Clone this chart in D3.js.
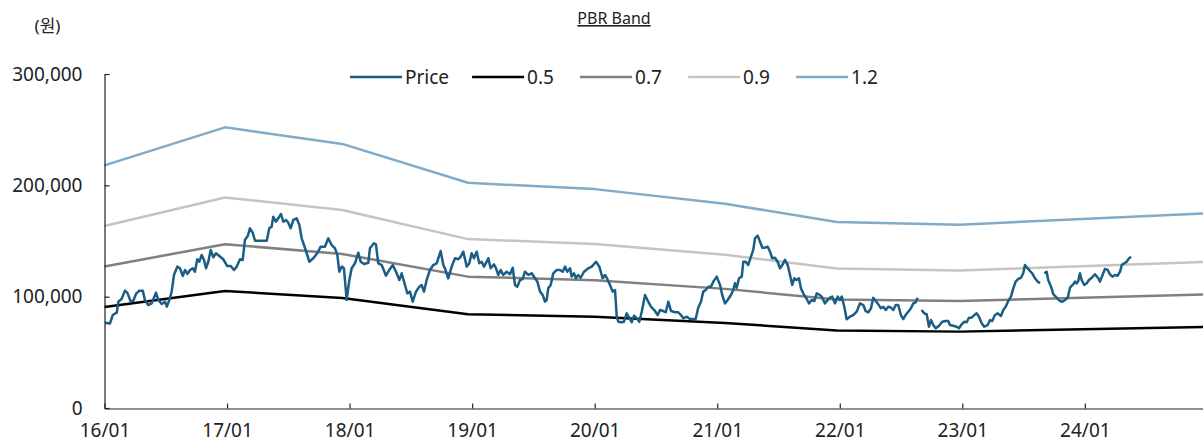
<!DOCTYPE html>
<html><head><meta charset="utf-8">
<script src="https://cdn.jsdelivr.net/npm/d3@7"></script>
<style>
body{margin:0;background:#fff;}
text{font-family:"Noto Sans","Noto Sans CJK KR",sans-serif;fill:#222;}
</style>
</head><body>
<svg id="c" width="1203" height="443"></svg>
<script>
const chartTitle = "PBR Band";
const unitLabel = "(원)";
const yTickValues = [0, 100000, 200000, 300000];
const xTickYears = [2016, 2017, 2018, 2019, 2020, 2021, 2022, 2023, 2024];
const xTickLabels = ["16/01","17/01","18/01","19/01","20/01","21/01","22/01","23/01","24/01"];
const seriesNames = ["Price", "0.5", "0.7", "0.9", "1.2"];
const seriesColors = ["#1a5e85", "#000000", "#808080", "#c4c4c4", "#80abca"];

// band series (decimal-year dates)
const bandDates = [2016.0, 2016.983, 2017.94, 2018.966, 2020.0, 2021.063, 2021.975, 2022.98, 2024.964];
const band05 = [90800, 105050, 98850, 84300, 81900, 76450, 69600, 68600, 72850];
const band07 = [127100, 147100, 138400, 118000, 114700, 107000, 97400, 96000, 102000];
const band09 = [163400, 189100, 177900, 151700, 147400, 137600, 125300, 123500, 131100];
const band12 = [217900, 252100, 237200, 202300, 196600, 183500, 167000, 164600, 174800];

// price (decimal-year dates); null = no data
const priceDate = [
2016.004,2016.045,2016.067,2016.100,2016.113,2016.140,2016.167,2016.186,2016.214,2016.235,
2016.257,2016.284,2016.312,2016.330,2016.357,2016.385,2016.420,2016.439,2016.467,2016.494,
2016.508,2016.529,2016.548,2016.567,2016.594,2016.616,2016.638,2016.657,2016.676,2016.698,
2016.720,2016.738,2016.757,2016.774,2016.793,2016.812,2016.828,2016.847,2016.867,2016.888,
2016.910,2016.937,2016.969,2017.002,2017.030,2017.057,2017.079,2017.106,2017.128,2017.146,
2017.169,2017.187,2017.209,2017.228,2017.255,2017.291,2017.324,2017.345,2017.364,2017.377,
2017.399,2017.418,2017.440,2017.459,2017.481,2017.500,2017.519,2017.541,2017.568,2017.590,
2017.609,2017.628,2017.650,2017.671,2017.704,2017.736,2017.764,2017.799,2017.826,2017.854,
2017.881,2017.900,2017.916,2017.936,2017.954,2017.976,2017.998,2018.017,2018.044,2018.071,
2018.091,2018.118,2018.153,2018.166,2018.199,2018.215,2018.234,2018.262,2018.297,2018.324,
2018.352,2018.379,2018.406,2018.425,2018.452,2018.471,2018.493,2018.515,2018.542,2018.569,
2018.588,2018.607,2018.629,2018.656,2018.683,2018.711,2018.743,2018.765,2018.778,2018.805,
2018.833,2018.860,2018.887,2018.907,2018.928,2018.956,2018.977,2018.996,2019.015,2019.037,
2019.058,2019.078,2019.097,2019.119,2019.132,2019.151,2019.178,2019.195,2019.213,2019.233,
2019.254,2019.282,2019.309,2019.331,2019.350,2019.368,2019.391,2019.413,2019.431,2019.458,
2019.486,2019.513,2019.532,2019.554,2019.576,2019.594,2019.608,2019.621,2019.641,2019.662,
2019.690,2019.717,2019.739,2019.758,2019.776,2019.799,2019.812,2019.831,2019.847,2019.866,
2019.886,2019.913,2019.948,2019.976,2020.011,2020.038,2020.065,2020.084,2020.103,2020.125,
2020.147,2020.166,2020.180,2020.193,2020.220,2020.239,2020.261,2020.282,2020.302,2020.321,
2020.343,2020.364,2020.384,2020.411,2020.437,2020.459,2020.486,2020.514,2020.533,2020.560,
2020.580,2020.601,2020.623,2020.655,2020.682,2020.704,2020.723,2020.751,2020.778,2020.805,
2020.824,2020.845,2020.867,2020.886,2020.906,2020.927,2020.949,2020.968,2020.996,2021.023,
2021.041,2021.063,2021.085,2021.112,2021.131,2021.145,2021.159,2021.178,2021.200,2021.213,
2021.232,2021.253,2021.275,2021.294,2021.308,2021.330,2021.349,2021.368,2021.390,2021.412,
2021.431,2021.449,2021.471,2021.493,2021.512,2021.531,2021.553,2021.575,2021.594,2021.612,
2021.629,2021.648,2021.667,2021.683,2021.702,2021.730,2021.749,2021.771,2021.792,2021.812,
2021.839,2021.857,2021.879,2021.901,2021.920,2021.939,2021.961,2021.983,2022.002,2022.016,
2022.037,2022.056,2022.083,2022.110,2022.138,2022.165,2022.192,2022.211,2022.233,2022.255,
2022.273,2022.293,2022.314,2022.336,2022.355,2022.375,2022.396,2022.418,2022.437,2022.456,
2022.477,2022.499,2022.518,2022.537,2022.559,2022.581,2022.600,2022.619,2022.636,2022.650,
2022.668,2022.690,2022.709,2022.728,2022.744,2022.763,2022.783,2022.810,2022.836,2022.864,
2022.885,2022.899,2022.926,2022.954,2022.973,2022.995,2023.016,2023.036,2023.054,2023.076,
2023.098,2023.117,2023.136,2023.158,2023.179,2023.207,2023.226,2023.244,2023.266,2023.289,
2023.315,2023.334,2023.354,2023.375,2023.397,2023.416,2023.435,2023.457,2023.479,2023.497,
2023.511,2023.533,2023.552,2023.571,2023.593,2023.615,2023.634,2023.650,2023.669,2023.688,
2023.701,2023.724,2023.742,2023.770,2023.797,2023.816,2023.838,2023.860,2023.879,2023.893,
2023.906,2023.919,2023.933,2023.946,2023.960,2023.974,2023.995,2024.015,2024.034,2024.056,
2024.082,2024.110,2024.123,2024.142,2024.164,2024.186,2024.205,2024.224,2024.246,2024.268,
2024.287,2024.301,2024.322,2024.342,2024.355,2024.376
];
const priceValue = [
76600,76000,83500,85600,95500,98000,105400,103600,95500,96400,
102400,105400,105400,97000,92500,94000,103600,97000,93400,95500,
91000,97000,104500,119500,127000,125500,118600,124000,120400,124000,
125500,122400,133600,131400,137400,133000,125500,131400,142000,135400,
139000,136500,133600,127500,127500,124000,127000,133600,133000,151000,
154500,161400,157500,150300,150300,150300,150300,161400,162900,171800,
167300,170400,174300,167300,168900,166400,161400,168900,170400,164400,
152400,146400,139000,131400,134500,139000,144900,144900,152400,146400,
143400,137400,122400,127000,125500,97000,115000,125500,130000,139500,
131400,129300,130500,143400,148000,147000,130000,128400,118800,124000,
128400,122400,115000,121000,110500,103000,104500,95500,104500,109000,
110500,104500,115000,124000,128400,130000,141000,128400,125500,116500,
127000,134500,133600,136000,140400,127000,130000,139000,134500,140400,
130000,131400,127000,131400,134500,125500,129000,125500,119500,124000,
119500,122400,120100,126000,110500,109000,115000,115900,122400,119500,
121000,116500,113500,104500,101500,95500,97000,107500,110500,121000,
124000,124000,122400,127000,122400,125500,118000,121000,116500,119500,
117000,122400,125500,127000,131400,127000,116500,119500,115900,110500,
104500,106000,82000,77500,77000,77500,85000,81100,77000,82900,
80600,77500,86500,101500,95500,91000,88000,83500,88000,87100,
86000,95500,87100,86000,86000,83500,80600,82000,79900,79900,
79900,90000,95500,104500,106000,109000,109000,113500,118000,110500,
101500,94000,97000,101500,106000,112000,108000,116500,118000,131400,
131400,128400,136000,142000,152400,154800,149400,144000,144000,144900,
140400,134500,135000,131400,125500,128400,133000,128400,119500,110500,
116500,115000,116500,107500,103000,98000,94000,97000,96100,103000,
101500,99100,94000,97000,99100,100000,94000,100000,97000,100000,
91000,79700,82000,83500,86500,94000,92500,87100,86000,89600,
99100,96100,93100,89600,91000,88000,91000,90100,88000,92500,
92500,83500,79900,83500,86500,89600,94000,94900,99100,null,
88000,85000,84200,73000,79000,74500,71600,73900,77500,78100,
78100,74500,73900,73000,71600,75200,77500,77000,81100,81100,
83500,85000,82000,76100,73000,74500,79000,78100,83500,85000,
82600,88000,91000,96100,100000,107500,113500,115900,117000,121000,
128400,125500,123000,121000,116500,113500,112000,null,121000,122400,
115000,109000,102200,99100,96100,95500,97000,99100,108000,109900,
111100,113500,112000,114100,121000,115000,110500,112000,115000,117000,
120100,116500,113500,118800,124900,124000,120100,118000,119500,118800,
122400,128400,130000,131400,133800,136000
];

const svg = d3.select("#c");
const x = d3.scaleLinear().domain([2016, 2024.964]).range([104.5, 1203]);
const y = d3.scaleLinear().domain([0, 300000]).range([408, 74]);

// bands
const bands = [
  {name: "1.2", vals: band12, color: seriesColors[4]},
  {name: "0.9", vals: band09, color: seriesColors[3]},
  {name: "0.7", vals: band07, color: seriesColors[2]},
  {name: "0.5", vals: band05, color: seriesColors[1]}
];
const bandLine = d3.line().x(d => x(d[0])).y(d => y(d[1]));
bands.forEach(b => {
  svg.append("path")
    .datum(bandDates.map((d, i) => [d, b.vals[i]]))
    .attr("d", bandLine)
    .attr("fill", "none")
    .attr("stroke", b.color)
    .attr("stroke-width", 2.5)
    .attr("stroke-linejoin", "round");
});

// price
const priceLine = d3.line()
  .defined(d => d[1] !== null)
  .x(d => x(d[0])).y(d => y(d[1]));
svg.append("path")
  .datum(priceDate.map((d, i) => [d, priceValue[i]]))
  .attr("d", priceLine)
  .attr("fill", "none")
  .attr("stroke", seriesColors[0])
  .attr("stroke-width", 2.5)
  .attr("stroke-linejoin", "round");

// axes
const yAxis = d3.axisLeft(y).tickValues(yTickValues)
  .tickFormat(d3.format(","))
  .tickSizeInner(-5).tickSizeOuter(0).tickPadding(22);
const gy = svg.append("g").attr("transform", "translate(104.5,0)").call(yAxis);
gy.selectAll("text").style("font-size", "19px").attr("fill", "#222");

const xAxis = d3.axisBottom(x).tickValues(xTickYears)
  .tickFormat((d, i) => xTickLabels[i])
  .tickSizeInner(-5).tickSizeOuter(0).tickPadding(15);
const gx = svg.append("g").attr("transform", "translate(0,408.5)").call(xAxis);
gx.selectAll("text").style("font-size", "19px").attr("fill", "#222");

[gx, gy].forEach(g => {
  g.select(".domain").attr("stroke", "#222").attr("stroke-width", 1.2);
  g.selectAll(".tick line").attr("stroke", "#222").attr("stroke-width", 1.2);
});

// title and unit
svg.append("text").attr("x", 614).attr("y", 24)
  .attr("text-anchor", "middle").style("font-size", "16px")
  .style("text-decoration", "underline").text(chartTitle);
svg.append("text").attr("x", 47.5).attr("y", 32)
  .attr("text-anchor", "middle").style("font-size", "17px").text(unitLabel);

// legend
const lg = svg.append("g");
let lx = 350;
const ly = 77;
seriesNames.forEach((n, i) => {
  lg.append("line").attr("x1", lx).attr("x2", lx + 52).attr("y1", ly).attr("y2", ly)
    .attr("stroke", seriesColors[i]).attr("stroke-width", 2.5);
  const t = lg.append("text").attr("x", lx + 55).attr("y", ly).attr("dy", "0.35em")
    .style("font-size", "19px").text(n);
  lx = lx + 55 + Math.max(t.node().getComputedTextLength(), 30) + 23;
});
</script>
</body></html>
